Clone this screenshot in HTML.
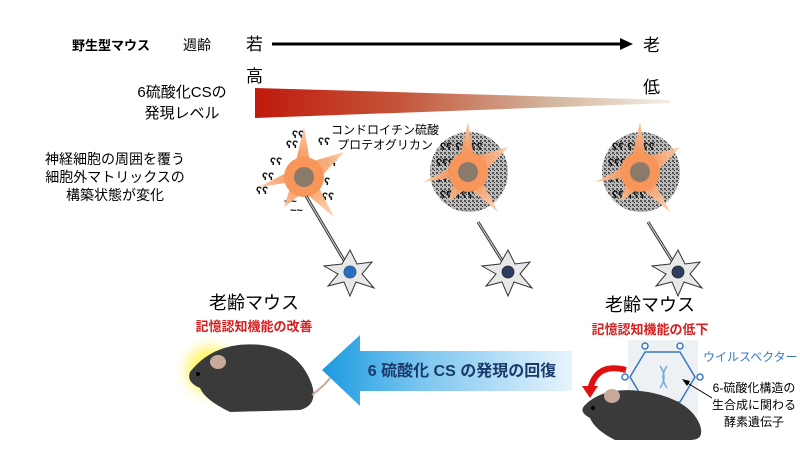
<!DOCTYPE html>
<html><head><meta charset="utf-8"><style>
html,body{margin:0;padding:0;background:#fff;}
svg{display:block;font-family:"Liberation Sans","Noto Sans CJK JP",sans-serif;}
</style></head><body>
<svg width="800" height="450" viewBox="0 0 800 450" xmlns="http://www.w3.org/2000/svg">
<defs>
<linearGradient id="wg" x1="0" x2="1" y1="0" y2="0">
<stop offset="0" stop-color="#c01a0c"/><stop offset="0.35" stop-color="#c4553a"/><stop offset="0.7" stop-color="#d2b39a"/><stop offset="1" stop-color="#f4ede6"/></linearGradient>
<linearGradient id="ag" x1="0" x2="1" y1="0" y2="0">
<stop offset="0" stop-color="#1a9be0"/><stop offset="0.4" stop-color="#7cc6f0"/><stop offset="1" stop-color="#e6f4fc"/></linearGradient>
<radialGradient id="glow"><stop offset="0" stop-color="#ffff30"/><stop offset="0.5" stop-color="#fff570" stop-opacity="0.8"/><stop offset="1" stop-color="#fff" stop-opacity="0"/></radialGradient>
<radialGradient id="orange"><stop offset="0.3" stop-color="#f7955a"/><stop offset="1" stop-color="#fbc7a0"/></radialGradient>
<pattern id="dots" width="4" height="4" patternUnits="userSpaceOnUse"><rect width="4" height="4" fill="#bbb"/><rect width="2" height="2" fill="#555"/><rect x="2" y="2" width="1" height="1" fill="#333"/></pattern>
<g id="astro">
<path d="M0,-50 L6,-15 L40,-25 L12,5 L30,40 L0,15 L-20,30 L-12,5 L-45,10 L-10,-8 Z" fill="url(#orange)" opacity="0.95"/>
<circle r="20" fill="#f7955a"/>
<circle r="10" fill="#8a7a6a"/>
</g>
<g id="neuron">
<path d="M0,-22 L7,-8 L22,-10 L12,2 L24,16 L6,10 L0,24 L-6,10 L-22,14 L-12,2 L-26,-6 L-8,-8 Z" fill="#e8e8e8" stroke="#333" stroke-width="1"/>
<circle r="6" fill="#2d3d60" stroke="#222" stroke-width="0.8"/>
</g>
</defs>

<!-- header -->
<text x="72" y="50" font-size="13" font-weight="bold">野生型マウス</text>
<text x="183" y="50" font-size="14">週齢</text>
<text x="246" y="50" font-size="17">若</text>
<text x="246" y="82" font-size="17">高</text>
<line x1="272" y1="44" x2="622" y2="44" stroke="#000" stroke-width="3"/>
<polygon points="620,38 633,44 620,50" fill="#000"/>
<text x="643" y="51" font-size="17">老</text>
<text x="643" y="93" font-size="17">低</text>
<text x="182" y="97" font-size="15" text-anchor="middle">6硫酸化CSの</text>
<text x="182" y="118" font-size="15" text-anchor="middle">発現レベル</text>
<polygon points="255,88 670,100 670,103 255,118" fill="url(#wg)"/>

<text x="115" y="164" font-size="14" text-anchor="middle">神経細胞の周囲を覆う</text>
<text x="115" y="182" font-size="14" text-anchor="middle">細胞外マトリックスの</text>
<text x="115" y="200" font-size="14" text-anchor="middle">構築状態が変化</text>
<text x="385" y="134" font-size="12" text-anchor="middle">コンドロイチン硫酸</text>
<text x="385" y="149" font-size="12" text-anchor="middle">プロテオグリカン</text>

<!-- astrocytes -->
<ellipse cx="469" cy="172" rx="39" ry="40" fill="url(#dots)"/>
<ellipse cx="641" cy="172" rx="39" ry="40" fill="url(#dots)"/>
<g font-size="11" font-weight="bold" fill="#111">
<text x="440" y="150">ʕʕ ʕʕ ʕʕ</text><text x="436" y="166">ʕʕʕ   ʕʕʕ</text><text x="436" y="182">ʕʕʕ   ʕʕʕ</text><text x="440" y="198">ʕʕ ʕʕʕ ʕʕ</text>
<text x="612" y="150">ʕʕ ʕʕ ʕʕ</text><text x="608" y="166">ʕʕʕ   ʕʕʕ</text><text x="608" y="182">ʕʕʕ   ʕʕʕ</text><text x="612" y="198">ʕʕ ʕʕʕ ʕʕ</text>
<text x="292" y="138">ʕʕ</text><text x="286" y="148">ʕʕ</text><text x="318" y="145">ʕʕ</text><text x="270" y="165">ʕʕ</text><text x="262" y="180">ʕʕ</text><text x="256" y="194">ʕʕ</text><text x="325" y="166">ʕʕ</text><text x="318" y="185">ʕʕ</text><text x="322" y="200">ʕʕ</text><text x="284" y="205">~~</text><text x="290" y="214">~~</text>
</g>
<use href="#astro" x="304" y="177"/>
<use href="#astro" x="468" y="172"/>
<use href="#astro" x="640" y="172"/>
<!-- axons -->
<path d="M306,196 L345,262" stroke="#333" stroke-width="3" fill="none"/><path d="M306,196 L345,262" stroke="#ddd" stroke-width="1" fill="none"/>
<path d="M478,222 L503,262" stroke="#333" stroke-width="3"/><path d="M478,222 L503,262" stroke="#ddd" stroke-width="1"/>
<path d="M648,222 L673,262" stroke="#333" stroke-width="3"/><path d="M648,222 L673,262" stroke="#ddd" stroke-width="1"/>
<use href="#neuron" x="350" y="272"/>
<use href="#neuron" x="508" y="272"/>
<use href="#neuron" x="678" y="272"/>
<circle cx="350" cy="272" r="6" fill="#2a70c0"/>

<!-- labels -->
<text x="254" y="309" font-size="18" text-anchor="middle">老齢マウス</text>
<text x="254" y="331" font-size="13" font-weight="bold" fill="#d81e1e" text-anchor="middle">記憶認知機能の改善</text>
<text x="650" y="311" font-size="18" text-anchor="middle">老齢マウス</text>
<text x="650" y="334" font-size="13" font-weight="bold" fill="#d81e1e" text-anchor="middle">記憶認知機能の低下</text>

<!-- big arrow -->
<polygon points="322,370 360,335 360,351 572,351 572,391 360,391 360,406" fill="url(#ag)"/>
<text x="462" y="376" font-size="16" font-weight="bold" fill="#1a3a6a" text-anchor="middle">6 硫酸化 CS の発現の回復</text>

<!-- left mouse -->
<circle cx="210" cy="370" r="38" fill="url(#glow)"/>
<path d="M190,372 Q215,340 262,345 Q300,350 312,385 Q318,405 300,410 L230,412 Q205,400 200,388 Q186,382 190,372 Z" fill="#3a3a3a"/>
<ellipse cx="218" cy="362" rx="8" ry="7" fill="#c8a898"/>
<path d="M312,395 Q325,385 330,378" stroke="#c8a898" stroke-width="2" fill="none"/>
<circle cx="198" cy="374" r="2" fill="#000"/>

<!-- right side virus -->
<rect x="628" y="340" width="70" height="75" fill="#eef1f4"/>
<polygon points="645,352 680,352 695,377 680,402 645,402 630,377" fill="none" stroke="#3a78c0" stroke-width="1.5"/>
<g fill="#fff" stroke="#3a78c0" stroke-width="1.5"><circle cx="645" cy="346" r="3"/><circle cx="680" cy="346" r="3"/><circle cx="625" cy="377" r="3"/><circle cx="700" cy="377" r="3"/><circle cx="645" cy="408" r="3"/><circle cx="680" cy="408" r="3"/></g>
<path d="M660,366 Q668,377 660,388 M667,366 Q659,377 667,388" stroke="#7aa8d8" stroke-width="1.5" fill="none"/>
<text x="703" y="361" font-size="12" fill="#3a78c0">ウイルスベクター</text>
<text x="754" y="392" font-size="12" text-anchor="middle">6-硫酸化構造の</text>
<text x="754" y="409" font-size="12" text-anchor="middle">生合成に関わる</text>
<text x="754" y="426" font-size="12" text-anchor="middle">酵素遺伝子</text>
<line x1="712" y1="398" x2="684" y2="381" stroke="#000" stroke-width="1"/>
<polygon points="682,379 690,381 687,386" fill="#000"/>
<path d="M590,390 Q596,362 626,370" stroke="#e01010" stroke-width="6" fill="none"/>
<polygon points="582,386 598,386 590,398" fill="#e01010"/>
<path d="M585,405 Q605,385 648,392 Q690,400 700,425 Q705,440 690,440 L615,440 Q595,430 590,418 Q578,412 585,405 Z" fill="#3a3a3a"/>
<ellipse cx="612" cy="396" rx="8" ry="7" fill="#c8a898"/>
<circle cx="593" cy="408" r="2" fill="#000"/>
</svg>
</body></html>
